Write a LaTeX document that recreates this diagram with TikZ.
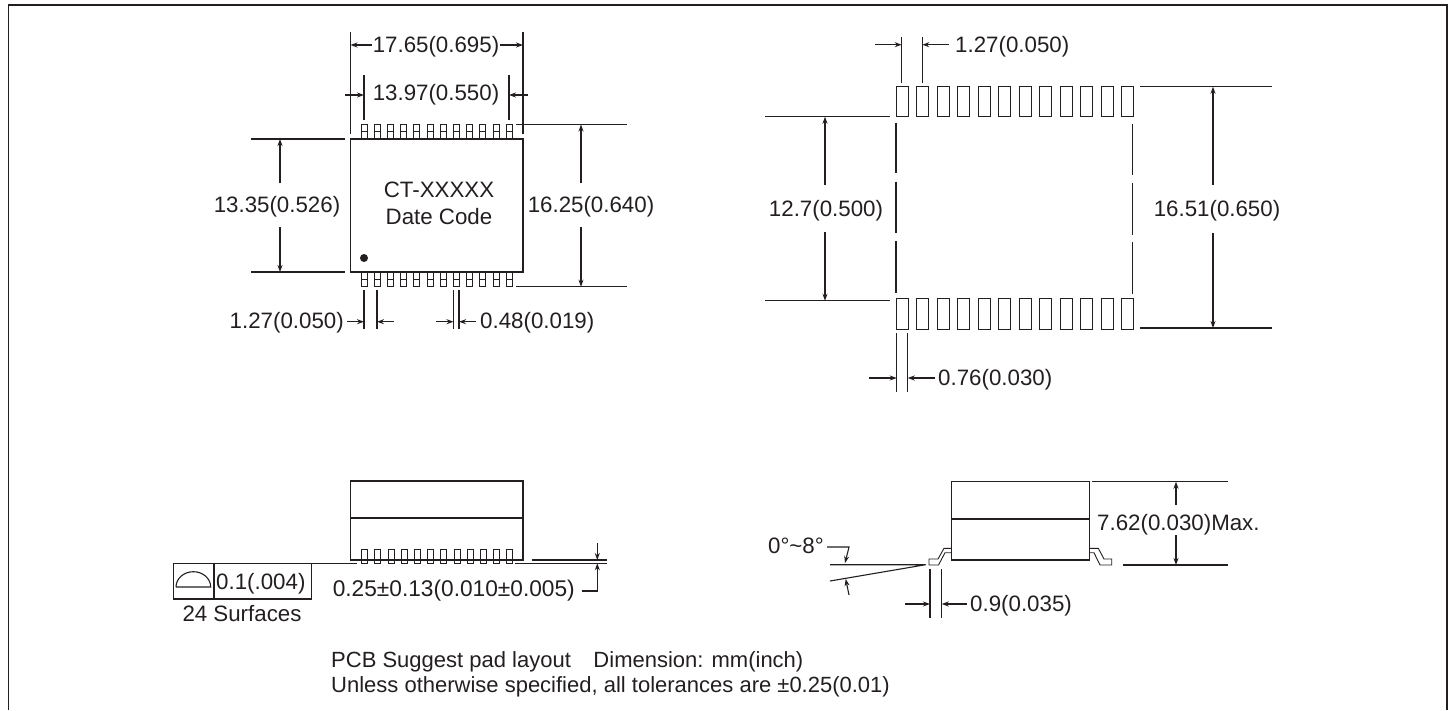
\documentclass[tikz,border=0pt]{standalone}
\usepackage{fontspec}
\setmainfont{Liberation Sans}
\usetikzlibrary{arrows.meta}
\definecolor{inkline}{HTML}{231F20}
\tikzstyle{line}=[draw=inkline, line width=1.1pt]
\tikzstyle{dim}=[line, ->]
\tikzstyle{lead}=[line, line width=0.9pt]
\tikzstyle{label}=[inner sep=0pt, text=inkline, font=\fontsize{22.3}{22.3}\selectfont]
\tikzstyle{note}=[label, font=\fontsize{22}{22}\selectfont]

\begin{document}
\begin{tikzpicture}[x=1pt, y=-1pt, >={Stealth[length=7pt, width=5pt]}] % 1 unit is 1 reference pixel
  \useasboundingbox (0,0) rectangle (1452,710);
  % frame
  \draw [line, line width=1.8pt] (8.5,710) -- (8.5,5) -- (1446.7,5) -- (1446.7,710);

  % top left package
  \draw [line] (350.5,139) rectangle (523,272);
  \fill [inkline] (364,258) circle (4);
  \foreach \m in {0,...,11}
  {
    \draw [lead] (361+13.2*\m,139) -- (361+13.2*\m,124.5) -- (367+13.2*\m,124.5) -- (367+13.2*\m,139);
    \draw [lead] (361+13.2*\m,131.7) -- (367+13.2*\m,131.7);
    \draw [lead] (361+13.2*\m,272) -- (361+13.2*\m,286.7) -- (367+13.2*\m,286.7) -- (367+13.2*\m,272);
    \draw [lead] (361+13.2*\m,279) -- (367+13.2*\m,279);
  }
  \node [label] (part-name) at (439,190) {CT-XXXXX};
  \node [label] (date-code) at (439,217) {Date Code};

  % top left widths
  \draw [line] (350.5,32) -- (350.5,134);
  \draw [line] (523,32) -- (523,134);
  \node [label] (width-outer) at (436,47) {17.65(0.695)};
  \draw [dim] (372,45) -- (350.5,45);
  \draw [dim] (500,45) -- (523,45);
  \draw [line] (364,75) -- (364,120);
  \draw [line] (509,75) -- (509,120);
  \node [label] (width-inner) at (436,95) {13.97(0.550)};
  \draw [dim] (345,95) -- (364,95);
  \draw [dim] (528,95) -- (509,95);

  % top left heights
  \draw [line] (251,139) -- (345,139);
  \draw [line] (251,272) -- (345,272);
  \node [label] (height-body) at (277,207) {13.35(0.526)};
  \draw [dim] (280,183) -- (280,139);
  \draw [dim] (280,227) -- (280,272);
  \draw [line] (516,124.5) -- (627,124.5);
  \draw [line] (516,286.7) -- (627,286.7);
  \node [label] (height-all) at (591,207) {16.25(0.640)};
  \draw [dim] (581,183) -- (581,124.5);
  \draw [dim] (581,227) -- (581,286.7);

  % top left pitch and lead
  \draw [line] (364,290) -- (364,329);
  \draw [line] (377,290) -- (377,329);
  \node [label, anchor=east] (pitch) at (344,323) {1.27(0.050)};
  \draw [dim] (347,321.7) -- (364,321.7);
  \draw [dim] (394,321.7) -- (377,321.7);
  \draw [line] (453.5,290) -- (453.5,329);
  \draw [line] (459,290) -- (459,329);
  \node [label, anchor=west] (lead-width) at (480,323) {0.48(0.019)};
  \draw [dim] (436,321.7) -- (453.5,321.7);
  \draw [dim] (476,321.7) -- (459,321.7);

  % pad layout
  \foreach \m in {0,...,11}
  {
    \draw [lead] (896+20.5*\m,86.7) rectangle (908.3+20.5*\m,116.7);
    \draw [lead] (896+20.5*\m,298.3) rectangle (908.3+20.5*\m,329);
  }
  \foreach \a/\b in {122.7/173.3,181.7/233.3,241/292.7}
  \draw [line] (896,\a) -- (896,\b);
  \foreach \a/\b in {124/175,183/235,242/294}
  \draw [line] (1132.7,\a) -- (1132.7,\b);

  \draw [line] (901.7,37) -- (901.7,83);
  \draw [line] (922.3,37) -- (922.3,83);
  \node [label, anchor=west] (pad-pitch) at (955,47) {1.27(0.050)};
  \draw [dim] (875,44.7) -- (901.7,44.7);
  \draw [dim] (949,44.7) -- (922.3,44.7);

  \draw [line] (765,116.7) -- (890,116.7);
  \draw [line] (765,300.7) -- (890,300.7);
  \node [label] (pad-inner) at (826,210.5) {12.7(0.500)};
  \draw [dim] (825,185) -- (825,116.7);
  \draw [dim] (825,232) -- (825,300.7);
  \draw [line] (1140,86.7) -- (1272,86.7);
  \draw [line] (1140,328) -- (1272,328);
  \node [label] (pad-outer) at (1217,211) {16.51(0.650)};
  \draw [dim] (1213,185) -- (1213,86.7);
  \draw [dim] (1213,233) -- (1213,328);

  \draw [line] (896.7,333) -- (896.7,391.7);
  \draw [line] (907.7,333) -- (907.7,391.7);
  \node [label, anchor=west] (pad-width) at (938,380) {0.76(0.030)};
  \draw [dim] (869,378) -- (896.7,378);
  \draw [dim] (935,378) -- (907.7,378);

  % bottom left side view
  \draw [line] (350.5,481) rectangle (523,560);
  \draw [line] (350.5,518) -- (523,518);
  \foreach \m in {0,...,11}
  \draw [lead] (361.7+13.2*\m,549) rectangle (367.7+13.2*\m,563);
  \draw [line] (311.7,563.3) -- (357,563.3);
  \draw [line] (515,563.3) -- (606.7,563.3);
  \draw [line] (531.7,560) -- (606.7,560);
  \draw [dim] (597.3,543) -- (597.3,560);
  \node [label, anchor=east, font=\fontsize{22.7}{22.7}\selectfont] (standoff) at (575,591) {0.25±0.13(0.010±0.005)};
  \draw [dim] (581.7,591) -- (597.3,591) -- (597.3,563.3);

  % flatness box
  \draw [line] (173.3,563.3) rectangle (311.7,599);
  \draw [line] (214,563.3) -- (214,599);
  \draw [line] (176,587) -- (210.7,587) arc (0:-180:17.35 and 15.3);
  \node [label, anchor=west] (flatness) at (216,584) {0.1(.004)};
  \node [label] (surfaces) at (242,614) {24 Surfaces};

  % bottom right side view
  \draw [line] (951.7,481.7) rectangle (1089.3,560);
  \draw [line] (951.7,519) -- (1089.3,519);
  \draw [lead] (951.7,548.3) -- (944,548.3) -- (938,559) -- (929,559) -- (929,565) -- (938.5,565) -- (945,552.7) -- (951.7,552.7);
  \draw [lead] (1089.3,548.3) -- (1098.3,548.3) -- (1104,559) -- (1111.7,559) -- (1111.7,565) -- (1100,565) -- (1094,552.7) -- (1089.3,552.7);
  \draw [line] (1092,481.7) -- (1228,481.7);
  \draw [line] (1123,565) -- (1228,565);
  \node [label, anchor=west] (body-height) at (1097,525) {7.62(0.030)Max.};
  \draw [dim] (1176,505) -- (1176,481.7);
  \draw [dim] (1176,535) -- (1176,565);

  % lead angle
  \node [label, anchor=east] (angle) at (824,546) {0°\textasciitilde 8°};
  \draw [dim] (827,547) -- (849,547) -- (845,563);
  \draw [line] (830,564.7) -- (925.7,564.7) -- (830,581);
  \draw [dim] (849,595) -- (845.7,579);

  % foot length
  \draw [line] (930,569.3) -- (930,618);
  \draw [line] (941.7,569.3) -- (941.7,618);
  \node [label, anchor=west] (foot) at (970,606) {0.9(0.035)};
  \draw [dim] (905,604) -- (930,604);
  \draw [dim] (967,604) -- (941.7,604);

  % notes
  \node [note, anchor=west] (note-top) at (331,662) {PCB Suggest pad layout\hspace{0.75em} Dimension: mm(inch)};
  \node [note, anchor=west] (note-bottom) at (331,687) {Unless otherwise specified, all tolerances are ±0.25(0.01)};
\end{tikzpicture}
\end{document}
